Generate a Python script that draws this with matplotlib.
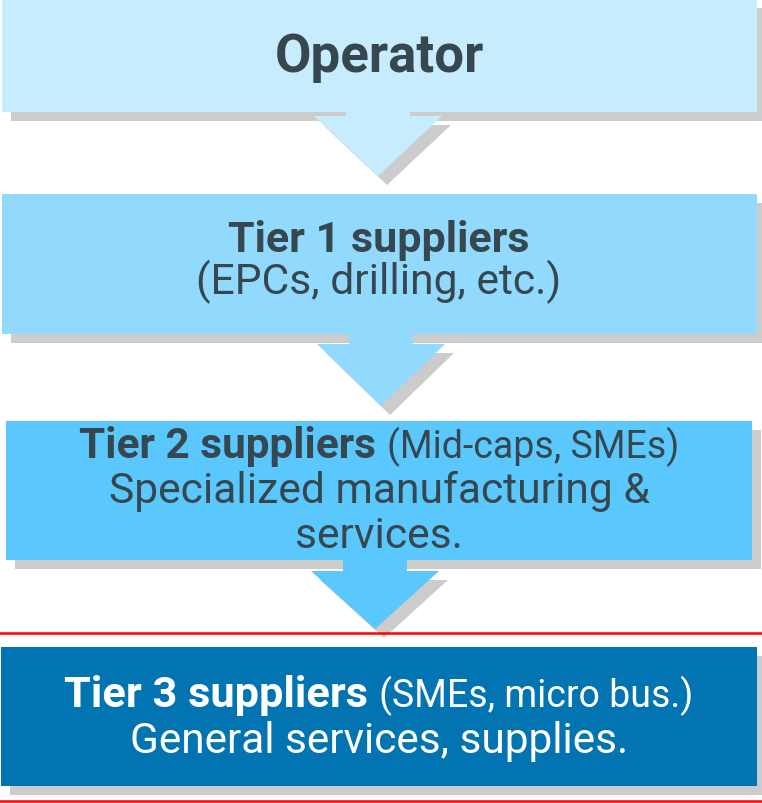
import matplotlib
matplotlib.use("Agg")
import matplotlib.pyplot as plt
from matplotlib.patches import Rectangle, Polygon

W, H = 762, 804

# tiers, top to bottom
titles = ["Operator", "Tier 1 suppliers", "Tier 2 suppliers", "Tier 3 suppliers"]
notes = ["", "", "(Mid-caps, SMEs)", "(SMEs, micro bus.)"]
details = [[],
           ["(EPCs, drilling, etc.)"],
           ["Specialized manufacturing &", "services."],
           ["General services, supplies."]]
fill_colors = ["#c7ecfe", "#91d9fd", "#5ac8fc", "#0274b1"]
text_colors = ["#37474f", "#37474f", "#37474f", "#ffffff"]

# layout (pixels, y downwards)
box_x = [(2, 757), (2, 757), (6, 752), (1, 757)]
box_y = [(0, 113), (195, 335), (422, 561), (648, 787)]
title_size = [38, 31, 30.5, 31.2]
note_size = [0, 0, 27, 27]
detail_size = [0, 30.7, 30.7, 30.5]
baselines = [[72], [252, 294], [458, 503, 548], [707, 753]]
arrow_head = [(117, 177), (345, 407), (572, 630)]
arrow_cx = [378, 381, 375]
stem_half, head_half = 32, 64
red_lines = [633.5, 802]
shadow = 9
shadow_color = "#cccccc"
cx = 379

fig = plt.figure(figsize=(W / 100, H / 100), dpi=100)
ax = fig.add_axes([0, 0, 1, 1])
ax.set_xlim(0, W)
ax.set_ylim(H, 0)
ax.axis("off")

# shadows first
for (x0, x1), (y0, y1) in zip(box_x, box_y):
    ax.add_patch(Rectangle((x0 + shadow, y0 + shadow), x1 - x0, y1 - y0,
                           color=shadow_color, lw=0, zorder=1))
for i, (h0, h1) in enumerate(arrow_head):
    c = arrow_cx[i]
    ax.add_patch(Polygon([(c - head_half + shadow, h0 + shadow), (c + head_half + shadow, h0 + shadow),
                          (c + shadow, h1 + shadow)], closed=True, color=shadow_color, lw=0, zorder=1))

# boxes
for i, ((x0, x1), (y0, y1)) in enumerate(zip(box_x, box_y)):
    ax.add_patch(Rectangle((x0, y0), x1 - x0, y1 - y0, color=fill_colors[i], lw=0, zorder=2))

# arrows below each box
for i, (h0, h1) in enumerate(arrow_head):
    c = arrow_cx[i]
    top = box_y[i][1] - 1
    pts = [(c - stem_half, top), (c + stem_half, top), (c + stem_half, h0),
           (c + head_half, h0), (c, h1), (c - head_half, h0), (c - stem_half, h0)]
    ax.add_patch(Polygon(pts, closed=True, color=fill_colors[i], lw=0, zorder=3))

fig.canvas.draw()
renderer = fig.canvas.get_renderer()

for i in range(len(titles)):
    col = text_colors[i]
    y = baselines[i][0]
    t1 = ax.text(0, y, titles[i], fontsize=title_size[i], fontweight="bold",
                 family="Roboto", color=col, ha="left", va="baseline", zorder=5)
    w1 = t1.get_window_extent(renderer).width
    if notes[i]:
        gap = 11
        t2 = ax.text(0, y, notes[i], fontsize=note_size[i], family="Roboto",
                     color=col, ha="left", va="baseline", zorder=5)
        w2 = t2.get_window_extent(renderer).width
        x0 = cx - (w1 + gap + w2) / 2
        t1.set_x(x0)
        t2.set_x(x0 + w1 + gap)
    else:
        t1.set_x(cx)
        t1.set_ha("center")
    for line, yb in zip(details[i], baselines[i][1:]):
        ax.text(cx, yb, line, fontsize=detail_size[i], family="Roboto",
                color=col, ha="center", va="baseline", zorder=5)

for y in red_lines:
    ax.axhline(y, color="#ff0000", lw=1.8, zorder=6)

fig.savefig("out.png", dpi=100)
